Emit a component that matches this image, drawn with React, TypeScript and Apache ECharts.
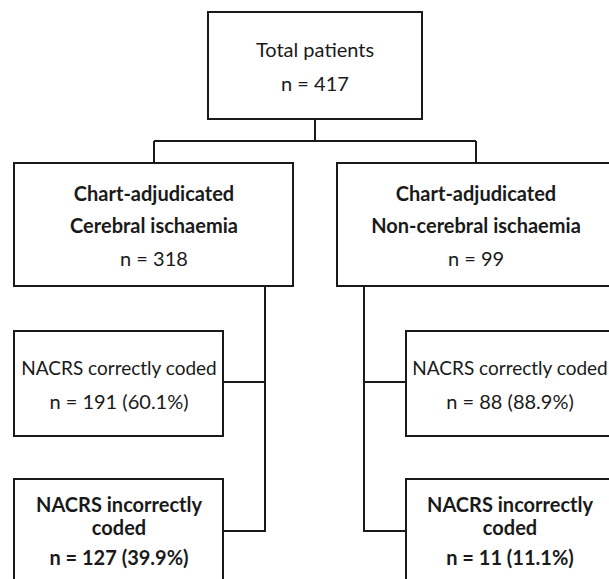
import React, { useEffect, useRef } from "react";
import * as echarts from "echarts";

// Flowchart content
const totalLabel = ["Total patients", "n = 417"];
const groupTitles = [
  ["Chart-adjudicated", "Cerebral ischaemia"],
  ["Chart-adjudicated", "Non-cerebral ischaemia"],
];
const groupCounts = [318, 99];
const correctCounts = [191, 88];
const correctPct = ["60.1%", "88.9%"];
const incorrectCounts = [127, 11];
const incorrectPct = ["39.9%", "11.1%"];

const W = 609;
const H = 579;
const FONT = "Lato, 'Open Sans', sans-serif";
const INK = "#1a1a1a";

export default function App() {
  const ref = useRef<HTMLDivElement>(null);
  useEffect(() => {
    if (!ref.current) return;
    const chart = echarts.init(ref.current, undefined, { renderer: "svg", width: W, height: H });

    const lw = 2;
    const boxStyle = { fill: "#fff", stroke: INK, lineWidth: lw };
    const lineStyle = { stroke: INK, lineWidth: lw };
    const els: any[] = [];

    const rect = (x: number, y: number, w: number, h: number) =>
      els.push({ type: "rect", shape: { x, y, width: w, height: h }, style: boxStyle, z: 1 });
    const line = (x1: number, y1: number, x2: number, y2: number) =>
      els.push({ type: "line", shape: { x1, y1, x2, y2 }, style: lineStyle, z: 0 });
    const text = (s: string, x: number, y: number, bold: boolean, size = 20) =>
      els.push({
        type: "text",
        x,
        y,
        z: 2,
        style: {
          text: s,
          fill: INK,
          font: `${bold ? "bold " : ""}${size}px ${FONT}`,
          textAlign: "center",
          textVerticalAlign: "middle",
        },
      });

    // Top box
    rect(208, 12, 214, 107);
    text(totalLabel[0], 315, 49, false);
    text(totalLabel[1], 315, 83, false);
    line(315, 119, 315, 141);
    line(154, 141, 476, 141);
    line(154, 141, 154, 163);
    line(476, 141, 476, 163);

    // Group boxes
    const gBox = [
      { x: 14, w: 279, cx: 154, trunk: 265 },
      { x: 337, w: 278, cx: 476, trunk: 364 },
    ];
    gBox.forEach((g, i) => {
      rect(g.x, 163, g.w, 123);
      text(groupTitles[i][0], g.cx, 193, true);
      text(groupTitles[i][1], g.cx, 225, true);
      text(`n = ${groupCounts[i]}`, g.cx, 258, false);
      line(g.trunk, 286, g.trunk, 532);
    });

    // Sub boxes
    const sBox = [
      { x: 14, w: 209, cx: 119, trunk: 265, edge: 223 },
      { x: 406, w: 209, cx: 510, trunk: 364, edge: 406 },
    ];
    sBox.forEach((s, i) => {
      rect(s.x, 331, s.w, 105);
      text("NACRS correctly coded", s.cx, 367, false, 19);
      text(`n = ${correctCounts[i]} (${correctPct[i]})`, s.cx, 401, false);
      line(s.trunk, 382, s.edge, 382);

      rect(s.x, 479, s.w, 130);
      text("NACRS incorrectly", s.cx, 504, true);
      text("coded", s.cx, 527, true);
      text(`n = ${incorrectCounts[i]} (${incorrectPct[i]})`, s.cx, 557, true);
      line(s.trunk, 531, s.edge, 531);
    });

    chart.setOption({
      animation: false,
      backgroundColor: "#fff",
      graphic: { elements: els },
    });
    return () => chart.dispose();
  }, []);
  return (
    <div
      ref={ref}
      style={{ position: "fixed", left: 0, top: 0, width: W, height: H, background: "#fff" }}
    />
  );
}
